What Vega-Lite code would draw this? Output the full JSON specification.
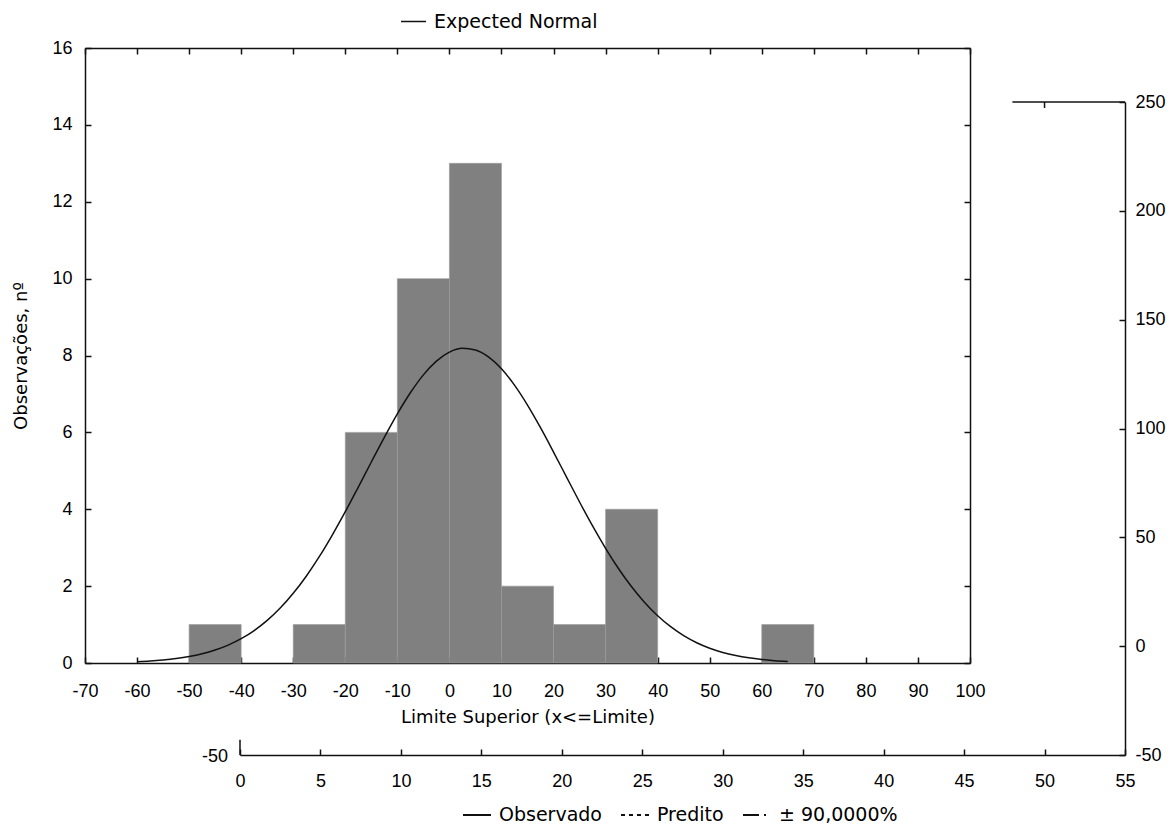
{
  "$schema": "https://vega.github.io/schema/vega-lite/v6.json",
  "width": 1040,
  "height": 707,
  "autosize": "none",
  "padding": {"left": 85, "top": 48, "right": 48, "bottom": 71},
  "background": "white",
  "config": {
    "view": {"stroke": null},
    "axis": {
      "domainColor": "#111", "tickColor": "#111", "domainWidth": 1.5, "tickWidth": 1.5, "tickSize": -6,
      "labelFont": "Liberation Sans", "labelFontSize": 18, "labelColor": "#000",
      "titleFont": "DejaVu Sans", "titleFontSize": 18, "titleFontWeight": "normal", "titleColor": "#000",
      "grid": false, "labelFlush": false, "labelOverlap": false, "labelBound": false,
      "labelExpr": "toString(datum.value)"
    },
    "legend": {
      "labelFont": "DejaVu Sans", "labelFontSize": 19, "labelColor": "#000", "title": null, "labelLimit": 400
    }
  },
  "layer": [
    {
      "data": {"values": [
        {"lo": -50, "hi": -40, "n": 1},
        {"lo": -30, "hi": -20, "n": 1},
        {"lo": -20, "hi": -10, "n": 6},
        {"lo": -10, "hi": 0, "n": 10},
        {"lo": 0, "hi": 10, "n": 13},
        {"lo": 10, "hi": 20, "n": 2},
        {"lo": 20, "hi": 30, "n": 1},
        {"lo": 30, "hi": 40, "n": 4},
        {"lo": 60, "hi": 70, "n": 1}
      ]},
      "mark": {"type": "rect", "fill": "#808080", "stroke": "#9a9a9a", "strokeWidth": 0.6},
      "encoding": {
        "x": {"field": "lo", "type": "quantitative",
          "scale": {"domain": [-70, 100], "range": [0, 885], "nice": false, "zero": false},
          "axis": {"orient": "bottom", "offset": -92, "values": [-70,-60,-50,-40,-30,-20,-10,0,10,20,30,40,50,60,70,80,90,100],
            "title": "Limite Superior (x<=Limite)", "labelPadding": 25, "titlePadding": 8}},
        "x2": {"field": "hi"},
        "y": {"field": "n", "type": "quantitative",
          "scale": {"domain": [0, 16], "range": [615, 0], "nice": false, "zero": false},
          "axis": {"orient": "left", "values": [0,2,4,6,8,10,12,14,16], "title": "Observações, nº", "labelPadding": 19, "titlePadding": 21}},
        "y2": {"datum": 0}
      }
    },
    {
      "data": {"values": [
        {"x": -60, "y": 0.034}, {"x": -57.5, "y": 0.051}, {"x": -55, "y": 0.078}, {"x": -52.5, "y": 0.115},
        {"x": -50, "y": 0.167}, {"x": -47.5, "y": 0.239}, {"x": -45, "y": 0.337}, {"x": -42.5, "y": 0.466},
        {"x": -40, "y": 0.632}, {"x": -37.5, "y": 0.844}, {"x": -35, "y": 1.108}, {"x": -32.5, "y": 1.429},
        {"x": -30, "y": 1.813}, {"x": -27.5, "y": 2.258}, {"x": -25, "y": 2.765}, {"x": -22.5, "y": 3.328},
        {"x": -20, "y": 3.936}, {"x": -17.5, "y": 4.577}, {"x": -15, "y": 5.229}, {"x": -12.5, "y": 5.871},
        {"x": -10, "y": 6.481}, {"x": -7.5, "y": 7.03}, {"x": -5, "y": 7.496}, {"x": -2.5, "y": 7.854},
        {"x": 0, "y": 8.088}, {"x": 2.5, "y": 8.187}, {"x": 5, "y": 8.145}, {"x": 7.5, "y": 7.963},
        {"x": 10, "y": 7.653}, {"x": 12.5, "y": 7.228}, {"x": 15, "y": 6.709}, {"x": 17.5, "y": 6.121},
        {"x": 20, "y": 5.488}, {"x": 22.5, "y": 4.837}, {"x": 25, "y": 4.189}, {"x": 27.5, "y": 3.566},
        {"x": 30, "y": 2.984}, {"x": 32.5, "y": 2.453}, {"x": 35, "y": 1.983}, {"x": 37.5, "y": 1.575},
        {"x": 40, "y": 1.229}, {"x": 42.5, "y": 0.944}, {"x": 45, "y": 0.712}, {"x": 47.5, "y": 0.528},
        {"x": 50, "y": 0.384}, {"x": 52.5, "y": 0.275}, {"x": 55, "y": 0.194}, {"x": 57.5, "y": 0.134},
        {"x": 60, "y": 0.091}, {"x": 62.5, "y": 0.061}, {"x": 65, "y": 0.04}
      ]},
      "mark": {"type": "line", "interpolate": "monotone", "strokeWidth": 1.5},
      "encoding": {
        "x": {"field": "x", "type": "quantitative",
          "scale": {"domain": [-70, 100], "range": [0, 885], "nice": false, "zero": false},
          "axis": {"orient": "top", "values": [-70,-60,-50,-40,-30,-20,-10,0,10,20,30,40,50,60,70,80,90,100], "labels": false, "title": null}},
        "y": {"field": "y", "type": "quantitative",
          "scale": {"domain": [0, 16], "range": [615, 0], "nice": false, "zero": false},
          "axis": {"orient": "right", "offset": -155, "values": [0,2,4,6,8,10,12,14,16], "labels": false, "title": null}},
        "color": {"datum": "Expected Normal", "type": "nominal",
          "scale": {"range": ["#111"]},
          "legend": {"orient": "none", "legendX": 315, "legendY": -40, "symbolType": "stroke", "symbolSize": 625, "symbolStrokeWidth": 1.5, "labelOffset": 7}}
      }
    },
    {
      "layer": [
        {
          "data": {"values": [
            {"sx": 48, "sx2": 55, "sy": 250, "sy2": 250},
            {"sx": 50, "sx2": 50, "sy": 250, "sy2": 247.2},
            {"sx": 0, "sx2": 0, "sy": -50, "sy2": -43}
          ]},
          "mark": {"type": "rule"},
          "encoding": {
            "x": {"field": "sx", "type": "quantitative",
              "scale": {"domain": [0, 55], "range": [155, 1040], "nice": false, "zero": false},
              "axis": {"orient": "bottom", "values": [0,5,10,15,20,25,30,35,40,45,50,55], "title": null, "labelPadding": 23}},
            "x2": {"field": "sx2"},
            "y": {"field": "sy", "type": "quantitative",
              "scale": {"domain": [-50, 250], "range": [707, 54], "nice": false, "zero": false},
              "axis": {"orient": "right", "values": [-50,0,50,100,150,200,250], "title": null, "labelPadding": 16}},
            "y2": {"field": "sy2"},
            "strokeDash": {"datum": "Observado", "type": "nominal",
              "scale": {"domain": ["Observado", "Predito", "± 90,0000%"], "range": [[1, 0], [4, 4], [16, 5, 2, 5]]},
              "legend": {"orient": "none", "direction": "horizontal", "legendX": 377, "legendY": 752, "symbolType": "stroke", "symbolSize": 784, "symbolStrokeWidth": 2, "labelOffset": 7, "columnPadding": 15}},
            "color": {"value": "#111"},
            "strokeWidth": {"value": 1.5}
          }
        },
        {
          "data": {"values": [{"sx": 0, "sy": -50, "label": "-50"}]},
          "mark": {"type": "text", "align": "right", "baseline": "middle", "dx": -12, "dy": 2, "font": "Liberation Sans", "fontSize": 18, "color": "#000"},
          "encoding": {
            "x": {"field": "sx", "type": "quantitative", "scale": {"domain": [0, 55], "range": [155, 1040], "nice": false, "zero": false}},
            "y": {"field": "sy", "type": "quantitative", "scale": {"domain": [-50, 250], "range": [707, 54], "nice": false, "zero": false}},
            "text": {"field": "label"}
          }
        }
      ]
    }
  ],
  "resolve": {
    "scale": {"x": "independent", "y": "independent", "color": "independent", "strokeDash": "independent"},
    "axis": {"x": "independent", "y": "independent"}
  }
}
